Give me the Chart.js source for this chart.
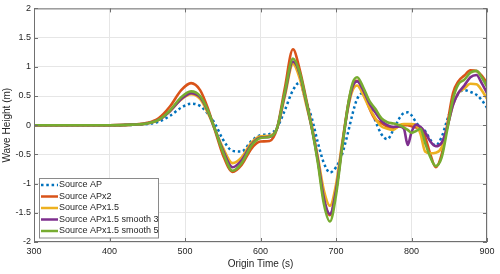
<!DOCTYPE html>
<html lang="en">
<head>
	<meta charset="UTF-8">
	<title>Wave Height vs Origin Time</title>
	<script src="https://cdn.jsdelivr.net/npm/chart.js"></script>
	<style>
		body { margin: 0; background: #fff; }
	</style>
</head>
<body>
<canvas id="waveChart" width="500" height="274"></canvas>

<script>
// origin time samples (s)
const times = [300, 350, 400, 430, 450, 465, 480, 495, 508, 520, 530, 540, 550, 563, 575, 588, 600, 612, 622, 632, 643, 652, 660, 668, 676, 684, 692, 700, 708, 716, 722, 728, 736, 744, 752, 760, 768, 776, 784, 790, 795, 800, 806, 812, 818, 825, 832, 840, 847, 855, 862, 870, 878, 886, 893, 900];

// wave height (m) per source
const sourceAP = [0, 0, 0, 0.005, 0.02, 0.06, 0.16, 0.3, 0.37, 0.33, 0.2, 0.02, -0.24, -0.44, -0.45, -0.27, -0.17, -0.15, -0.04, 0.25, 0.6, 0.73, 0.42, 0.12, -0.3, -0.65, -0.81, -0.72, -0.5, -0.12, 0.2, 0.45, 0.55, 0.35, 0.08, -0.15, -0.24, -0.08, 0.12, 0.21, 0.22, 0.17, 0.05, -0.04, -0.1, -0.25, -0.35, -0.2, 0.08, 0.37, 0.54, 0.6, 0.57, 0.52, 0.43, 0.3];
const sourceAPx2 = [0, 0, 0, 0.01, 0.04, 0.12, 0.32, 0.6, 0.72, 0.6, 0.3, -0.1, -0.5, -0.8, -0.68, -0.4, -0.28, -0.27, -0.05, 0.62, 1.3, 0.95, 0.48, -0.02, -0.6, -1.28, -1.54, -1.12, -0.35, 0.35, 0.68, 0.76, 0.6, 0.3, 0.1, 0.04, -0.03, -0.05, -0.02, 0, 0, -0.02, -0.04, -0.05, -0.2, -0.5, -0.72, -0.5, -0.02, 0.55, 0.75, 0.85, 0.94, 0.93, 0.85, 0.72];
const sourceAPx15 = [0, 0, 0, 0.01, 0.03, 0.09, 0.24, 0.44, 0.53, 0.45, 0.22, -0.08, -0.38, -0.65, -0.55, -0.3, -0.19, -0.18, -0.05, 0.48, 1.05, 0.8, 0.38, -0.05, -0.55, -1.12, -1.38, -1.02, -0.32, 0.3, 0.6, 0.68, 0.52, 0.3, 0.12, -0.02, -0.06, -0.08, 0, 0.02, 0.02, 0.02, 0, -0.15, -0.45, -0.48, -0.47, -0.38, -0.05, 0.35, 0.55, 0.63, 0.71, 0.7, 0.6, 0.45];
const sourceAPx15s3 = [0, 0, 0, 0.01, 0.03, 0.09, 0.24, 0.45, 0.55, 0.48, 0.25, -0.08, -0.42, -0.72, -0.6, -0.33, -0.21, -0.2, -0.05, 0.52, 1.09, 0.88, 0.43, -0.05, -0.6, -1.25, -1.52, -1.12, -0.38, 0.32, 0.66, 0.75, 0.6, 0.38, 0.22, 0.08, 0, -0.03, -0.02, -0.06, -0.34, -0.12, 0.01, -0.03, -0.12, -0.28, -0.36, -0.3, -0.05, 0.35, 0.55, 0.68, 0.82, 0.86, 0.72, 0.55];
const sourceAPx15s5 = [0, 0, 0, 0.01, 0.03, 0.09, 0.25, 0.48, 0.58, 0.5, 0.26, -0.08, -0.45, -0.78, -0.65, -0.35, -0.22, -0.2, -0.05, 0.55, 1.14, 0.9, 0.45, -0.05, -0.65, -1.35, -1.65, -1.2, -0.4, 0.35, 0.72, 0.82, 0.65, 0.42, 0.28, 0.12, 0.05, 0.03, 0, -0.04, -0.08, -0.13, -0.1, -0.06, -0.3, -0.55, -0.7, -0.55, -0.1, 0.45, 0.7, 0.78, 0.9, 0.93, 0.82, 0.66];

const labels = ['Source AP', 'Source APx2', 'Source APx1.5', 'Source APx1.5 smooth 3', 'Source APx1.5 smooth 5'];
const colors = ['#0072BD', '#D95319', '#EDB120', '#7E2F8E', '#77AC30'];
const seriesList = [sourceAP, sourceAPx2, sourceAPx15, sourceAPx15s3, sourceAPx15s5];

const xTicks = [300, 400, 500, 600, 700, 800, 900];
const yTicks = [-2, -1.5, -1, -0.5, 0, 0.5, 1, 1.5, 2];

const FONT = '"Liberation Sans", Arial, sans-serif';

// box around the axes with inward ticks, like matlab
const boxPlugin = {
	id: 'box',
	afterDraw(chart) {
		const {ctx, chartArea: a, scales} = chart;
		ctx.save();
		ctx.strokeStyle = '#707070';
		ctx.lineWidth = 1;
		ctx.strokeRect(a.left + 0.5, a.top + 0.5, a.right - a.left - 1, a.bottom - a.top - 1);
		ctx.beginPath();
		xTicks.forEach(v => {
			const px = Math.round(scales.x.getPixelForValue(v)) + 0.5;
			ctx.moveTo(px, a.bottom); ctx.lineTo(px, a.bottom - 4);
			ctx.moveTo(px, a.top); ctx.lineTo(px, a.top + 4);
		});
		yTicks.forEach(v => {
			const py = Math.round(scales.y.getPixelForValue(v)) + 0.5;
			ctx.moveTo(a.left, py); ctx.lineTo(a.left + 4, py);
			ctx.moveTo(a.right, py); ctx.lineTo(a.right - 4, py);
		});
		ctx.stroke();

		// legend in the lower left corner
		const lx = a.left + 5, ly = a.bottom - 64, lw = 119, rowH = 11.5;
		ctx.fillStyle = '#fff';
		ctx.fillRect(lx, ly, lw, rowH * labels.length + 2);
		ctx.strokeStyle = '#8a8a8a';
		ctx.strokeRect(lx + 0.5, ly + 0.5, lw, rowH * labels.length + 2);
		ctx.font = '9px ' + FONT;
		ctx.textBaseline = 'middle';
		labels.forEach((lab, i) => {
			const y = ly + 7 + i * rowH;
			ctx.beginPath();
			ctx.strokeStyle = colors[i];
			ctx.lineWidth = 2.5;
			ctx.setLineDash(i === 0 ? [2.5, 2.8] : []);
			ctx.moveTo(lx + 2, y); ctx.lineTo(lx + 19, y);
			ctx.stroke();
			ctx.setLineDash([]);
			ctx.fillStyle = '#262626';
			ctx.fillText(lab, lx + 20, y);
		});
		ctx.restore();
	}
};

const ctx = document.getElementById('waveChart').getContext('2d');
new Chart(ctx, {
	type: 'line',
	data: {
		datasets: seriesList.map((vals, i) => ({
			label: labels[i],
			data: times.map((t, j) => ({x: t, y: vals[j]})),
			borderColor: colors[i],
			borderWidth: i === 0 ? 2.5 : 2.6,
			borderDash: i === 0 ? [2.5, 2.8] : [],
			pointRadius: 0,
			cubicInterpolationMode: 'monotone',
			fill: false,
			order: 5 - i
		}))
	},
	options: {
		responsive: false,
		animation: false,
		layout: {padding: {top: 8, right: 13, left: 0, bottom: 0}},
		plugins: {legend: {display: false}, tooltip: {enabled: false}},
		scales: {
			x: {
				type: 'linear',
				min: 300, max: 900,
				afterBuildTicks: s => { s.ticks = xTicks.map(v => ({value: v})); },
				afterFit: s => { s.height = 32; },
				grid: {color: '#e6e6e6', drawTicks: false},
				border: {display: false},
				ticks: {padding: 4, color: '#262626', font: {family: FONT, size: 9}, callback: v => String(v)},
				title: {display: true, text: 'Origin Time (s)', color: '#262626', padding: {bottom: 4}, font: {family: FONT, size: 10}}
			},
			y: {
				min: -2, max: 2,
				afterBuildTicks: s => { s.ticks = yTicks.map(v => ({value: v})); },
				afterFit: s => { s.width = 34; },
				grid: {color: '#e6e6e6', drawTicks: false},
				border: {display: false},
				ticks: {padding: 3, color: '#262626', font: {family: FONT, size: 9}, callback: v => String(v)},
				title: {display: true, text: 'Wave Height (m)', color: '#262626', padding: {top: 1}, font: {family: FONT, size: 10}}
			}
		}
	},
	plugins: [boxPlugin]
});
</script>
</body>
</html>
